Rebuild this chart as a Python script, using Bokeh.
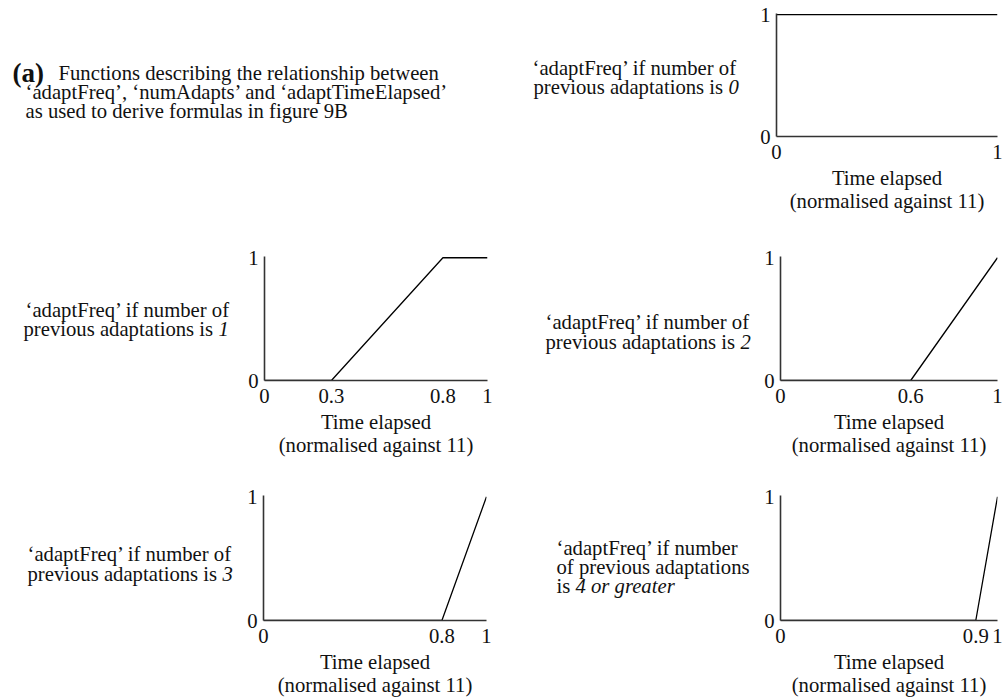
from bokeh.plotting import figure
from bokeh.layouts import row, column
from bokeh.models import Range1d, FixedTicker
from bokeh.core.properties import value
from bokeh.embed import file_html
from bokeh.resources import INLINE

# ---------------- data ----------------
time_n0 = [0, 1]
freq_n0 = [1, 1]
time_n1 = [0, 0.3, 0.8, 1]
freq_n1 = [0, 0, 1, 1]
time_n2 = [0, 0.6, 1]
freq_n2 = [0, 0, 1]
time_n3 = [0, 0.8, 1]
freq_n3 = [0, 0, 1]
time_n4 = [0, 0.9, 1]
freq_n4 = [0, 0, 1]

xticks_n0 = [0, 1]
xlabels_n0 = ["0", "1"]
xticks_n1 = [0, 0.3, 0.8, 1]
xlabels_n1 = ["0", "0.3", "0.8", "1"]
xticks_n2 = [0, 0.6, 1]
xlabels_n2 = ["0", "0.6", "1"]
xticks_n3 = [0, 0.8, 1]
xlabels_n3 = ["0", "0.8", "1"]
xticks_n4 = [0, 0.9, 1]
xlabels_n4 = ["0", "0.9", "1"]
yticks = [0, 1]
ylabels = ["0", "1"]

x_axis_title = "Time elapsed\n(normalised against 11)"
heading_bold = "(a)"
heading_lines = [
    "Functions describing the relationship between",
    "\u2018adaptFreq\u2019, \u2018numAdapts\u2019 and \u2018adaptTimeElapsed\u2019",
    "as used to derive formulas in figure 9B",
]
desc_line1 = "\u2018adaptFreq\u2019 if number of"
desc_line2 = "previous adaptations is"
desc_counts = ["0", "1", "2", "3"]
desc4_lines = ["\u2018adaptFreq\u2019 if number", "of previous adaptations", "is"]
desc4_count = "4 or greater"

# ---------------- style ----------------
SERIF = "Liberation Serif"
FS = 20.7
FSZ = f"{FS}px"
TXT = "#111111"
PREV_W = 9.416 * FS   # width of "previous adaptations is "
IS_W = 0.917 * FS     # width of "is "


def text_fig(x0, w, h, frame_top, frame_bottom):
    # frames of figures in one row are aligned by Bokeh, so this tile's frame
    # spans the same screen rows as the plots next to it
    p = figure(width=w, height=h, x_range=Range1d(x0, x0 + w),
               y_range=Range1d(frame_bottom, frame_top),
               output_backend="svg", toolbar_location=None,
               min_border_left=0, min_border_right=0, min_border_top=0,
               min_border_bottom=0, x_axis_location=None, y_axis_location=None)
    p.grid.visible = False
    p.outline_line_color = None
    p.background_fill_color = "white"
    p.border_fill_color = "white"
    return p


def add_text(p, xs, ys, texts, style="normal", size=FSZ):
    p.text(x=xs, y=ys, text=texts, text_font=value(SERIF),
           text_font_size=size, text_font_style=style, text_baseline="alphabetic",
           text_align="left", text_color=TXT)


def plot_fig(w, h, bl, br, bt, bb, xs, ys, xt, xl):
    p = figure(width=w, height=h, x_range=Range1d(0, 1), y_range=Range1d(0, 1.01),
               output_backend="svg", toolbar_location=None,
               min_border_left=bl, min_border_right=br, min_border_top=bt,
               min_border_bottom=bb)
    p.grid.visible = False
    p.outline_line_color = None
    p.background_fill_color = "white"
    p.border_fill_color = "white"
    p.line(xs, ys, line_color="black", line_width=1.3)
    p.xaxis.ticker = FixedTicker(ticks=xt)
    p.xaxis.major_label_overrides = {t: l for t, l in zip(xt, xl)}
    p.yaxis.ticker = FixedTicker(ticks=yticks)
    p.yaxis.major_label_overrides = {t: l for t, l in zip(yticks, ylabels)}
    for ax in (p.xaxis[0], p.yaxis[0]):
        ax.axis_line_color = "#333333"
        ax.axis_line_width = 1.6
        ax.major_tick_line_color = None
        ax.minor_tick_line_color = None
        ax.major_tick_out = 0
        ax.major_tick_in = 0
        ax.minor_tick_out = 0
        ax.major_label_text_font = SERIF
        ax.major_label_text_font_size = FSZ
        ax.major_label_text_color = TXT
    p.xaxis.major_label_standoff = 8
    p.yaxis.major_label_standoff = 6
    p.xaxis.axis_label = x_axis_title
    p.xaxis.axis_label_standoff = 5
    p.xaxis.axis_label_text_font = SERIF
    p.xaxis.axis_label_text_font_size = FSZ
    p.xaxis.axis_label_text_font_style = "normal"
    p.xaxis.axis_label_text_color = TXT
    p.xaxis.axis_label_text_line_height = 1.05
    return p


# ---------------- row 1 (screen y 0..229, frame 13..136) ----------------
H1, TOP1, BOT1 = 229, 13, 93
F1T, F1B = TOP1, H1 - BOT1
t1 = text_fig(0, 740, H1, F1T, F1B)
add_text(t1, [12], [72], [heading_bold], style="bold", size="27px")
add_text(t1, [58, 25, 25], [72, 91, 110], heading_lines)
add_text(t1, [532, 533], [67, 86], [desc_line1, desc_line2])
add_text(t1, [533 + PREV_W], [86], [desc_counts[0]], style="italic")
p1 = plot_fig(263, H1, 36, 6, TOP1, BOT1, time_n0, freq_n0, xticks_n0, xlabels_n0)

# ---------------- row 2 (screen y 229..468, frame 256..380) ----------------
Y2, H2, TOP2, BOT2 = 229, 239, 27, 88
F2T, F2B = Y2 + TOP2, Y2 + H2 - BOT2
t2a = text_fig(0, 238, H2, F2T, F2B)
add_text(t2a, [25, 23], [309, 328], [desc_line1, desc_line2])
add_text(t2a, [23 + PREV_W], [328], [desc_counts[1]], style="italic")
p2 = plot_fig(302, H2, 26, 53, TOP2, BOT2, time_n1, freq_n1, xticks_n1, xlabels_n1)
t2b = text_fig(540, 214, H2, F2T, F2B)
add_text(t2b, [545, 545], [321, 341], [desc_line1, desc_line2])
add_text(t2b, [545 + PREV_W], [341], [desc_counts[2]], style="italic")
p3 = plot_fig(249, H2, 26, 6, TOP2, BOT2, time_n2, freq_n2, xticks_n2, xlabels_n2)

# ---------------- row 3 (screen y 468..698, frame 495..620) ----------------
Y3, H3, TOP3, BOT3 = 468, 230, 27, 78
F3T, F3B = Y3 + TOP3, Y3 + H3 - BOT3
t3a = text_fig(0, 240, H3, F3T, F3B)
add_text(t3a, [27, 27], [553, 573], [desc_line1, desc_line2])
add_text(t3a, [27 + PREV_W], [573], [desc_counts[3]], style="italic")
p4 = plot_fig(310, H3, 23, 64, TOP3, BOT3, time_n3, freq_n3, xticks_n3, xlabels_n3)
t3b = text_fig(550, 204, H3, F3T, F3B)
add_text(t3b, [556, 556, 556], [547, 566, 585], desc4_lines)
add_text(t3b, [556 + IS_W], [585], [desc4_count], style="italic")
p5 = plot_fig(249, H3, 26, 6, TOP3, BOT3, time_n4, freq_n4, xticks_n4, xlabels_n4)

layout = column(
    row(t1, p1),
    row(t2a, p2, t2b, p3),
    row(t3a, p4, t3b, p5),
)

open("out.html", "w").write(file_html(layout, INLINE))
